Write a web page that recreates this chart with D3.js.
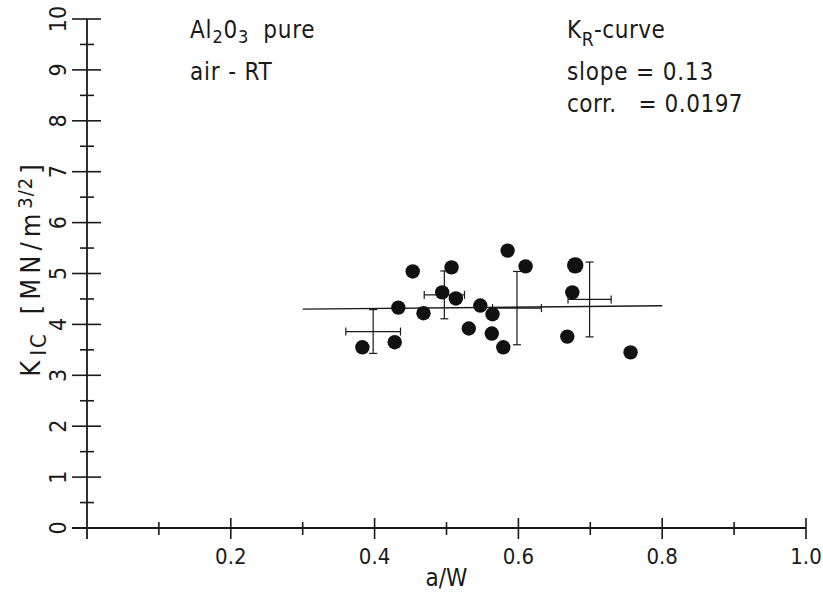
<!DOCTYPE html>
<html>
<head>
<meta charset="utf-8">
<script src="https://cdn.jsdelivr.net/npm/d3@7"></script>
<style>
  body { margin: 0; background: #fff; }
  text { font-family: "DejaVu Sans Condensed", "Liberation Sans Narrow", "DejaVu Sans", sans-serif; fill: #1a1a1a; }
</style>
</head>
<body>
<svg id="chart" width="823" height="595"></svg>
<script>
// ---- data ----
var aw   = [0.383, 0.428, 0.433, 0.453, 0.468, 0.494, 0.507, 0.513, 0.531, 0.547, 0.564, 0.563, 0.579, 0.585, 0.610, 0.679, 0.675, 0.668, 0.756];
var kic  = [3.55, 3.65, 4.33, 5.04, 4.22, 4.63, 5.12, 4.51, 3.92, 4.37, 4.20, 3.82, 3.55, 5.45, 5.14, 5.16, 4.63, 3.76, 3.45];
var big  = [0, 0, 0, 0, 0, 0, 0, 0, 0, 0, 0, 0, 0, 0, 0, 1, 0, 0, 0];

// mean values with scatter bars
var barX    = [0.398, 0.497, 0.598, 0.699];
var barY    = [3.86, 4.58, 4.32, 4.49];
var barXerr = [0.038, 0.028, 0.034, 0.030];
var barYerr = [0.43, 0.47, 0.72, 0.735];

// K_R curve fit
var fitX = [0.30, 0.80];
var fitY = [4.30, 4.365];

var xMajor = [0.2, 0.4, 0.6, 0.8, 1.0];
var xMinor = [0.1, 0.3, 0.5, 0.7, 0.9];
var yMajor = [0, 1, 2, 3, 4, 5, 6, 7, 8, 9, 10];
var yMinor = [0.5, 1.5, 2.5, 3.5, 4.5, 5.5, 6.5, 7.5, 8.5, 9.5];

var ink = "#1a1a1a";
var svg = d3.select("#chart");

var x = d3.scaleLinear().domain([0, 1]).range([87, 806]);
var y = d3.scaleLinear().domain([0, 10]).range([528, 19]);

//================ axes =================
svg.append("line")
  .attr("x1", 72).attr("x2", x(1))
  .attr("y1", y(0)).attr("y2", y(0))
  .attr("stroke", ink).attr("stroke-width", 1.8);
svg.append("line")
  .attr("x1", x(0)).attr("x2", x(0))
  .attr("y1", y(10)).attr("y2", y(0) + 11)
  .attr("stroke", ink).attr("stroke-width", 1.8);

svg.selectAll(".xmaj").data(xMajor).enter().append("line")
  .attr("x1", function(d) { return x(d); }).attr("x2", function(d) { return x(d); })
  .attr("y1", y(0) - 10).attr("y2", y(0) + 11)
  .attr("stroke", ink).attr("stroke-width", 1.6);
svg.selectAll(".xmin").data(xMinor).enter().append("line")
  .attr("x1", function(d) { return x(d); }).attr("x2", function(d) { return x(d); })
  .attr("y1", y(0) - 6).attr("y2", y(0) + 7)
  .attr("stroke", ink).attr("stroke-width", 1.6);

svg.selectAll(".ymaj").data(yMajor).enter().append("line")
  .attr("x1", x(0) - 15).attr("x2", x(0) + 14)
  .attr("y1", function(d) { return y(d); }).attr("y2", function(d) { return y(d); })
  .attr("stroke", ink).attr("stroke-width", 1.6);
svg.selectAll(".ymin").data(yMinor).enter().append("line")
  .attr("x1", x(0) - 7).attr("x2", x(0) + 7)
  .attr("y1", function(d) { return y(d); }).attr("y2", function(d) { return y(d); })
  .attr("stroke", ink).attr("stroke-width", 1.6);

// tick labels
svg.selectAll(".xlab").data(xMajor).enter().append("text")
  .attr("x", function(d) { return x(d); })
  .attr("y", y(0) + 36)
  .attr("text-anchor", "middle")
  .style("font-size", "22px")
  .text(function(d) { return d.toFixed(1); });

svg.selectAll(".ylab").data(yMajor).enter().append("text")
  .attr("transform", function(d) { return "translate(" + (x(0) - 21) + "," + y(d) + ") rotate(-90)"; })
  .attr("text-anchor", "middle")
  .style("font-size", "23px")
  .text(function(d) { return d; });

// axis titles
svg.append("text")
  .attr("x", x(0.5)).attr("y", y(0) + 58)
  .attr("text-anchor", "middle")
  .style("font-size", "24px")
  .text("a/W");

var yt = svg.append("text")
  .attr("transform", "translate(40," + 268 + ") rotate(-90)")
  .attr("text-anchor", "middle")
  .style("font-size", "27px")
  .style("letter-spacing", "5px");
yt.append("tspan").text("K");
yt.append("tspan").attr("baseline-shift", "-25%").style("font-size", "22px").style("letter-spacing", "2px").text("IC");
yt.append("tspan").attr("dx", 18).text("[MN/m");
yt.append("tspan").attr("baseline-shift", "40%").style("font-size", "20px").style("letter-spacing", "1px").text("3/2");
yt.append("tspan").attr("dx", 3).text("]");

//================ fit line =================
svg.append("line")
  .attr("x1", x(fitX[0])).attr("x2", x(fitX[1]))
  .attr("y1", y(fitY[0])).attr("y2", y(fitY[1]))
  .attr("stroke", ink).attr("stroke-width", 1.4);

//================ scatter bars =================
var bars = svg.selectAll(".bar").data(barX).enter().append("g");
bars.append("line")
  .attr("x1", function(d) { return x(d); }).attr("x2", function(d) { return x(d); })
  .attr("y1", function(d, i) { return y(barY[i] + barYerr[i]); })
  .attr("y2", function(d, i) { return y(barY[i] - barYerr[i]); })
  .attr("stroke", ink).attr("stroke-width", 1.2);
bars.append("line")
  .attr("x1", function(d, i) { return x(d - barXerr[i]); })
  .attr("x2", function(d, i) { return x(d + barXerr[i]); })
  .attr("y1", function(d, i) { return y(barY[i]); }).attr("y2", function(d, i) { return y(barY[i]); })
  .attr("stroke", ink).attr("stroke-width", 1.2);
// caps
[1, -1].forEach(function(s) {
  bars.append("line")
    .attr("x1", function(d) { return x(d) - 4; }).attr("x2", function(d) { return x(d) + 4; })
    .attr("y1", function(d, i) { return y(barY[i] + s * barYerr[i]); })
    .attr("y2", function(d, i) { return y(barY[i] + s * barYerr[i]); })
    .attr("stroke", ink).attr("stroke-width", 1.2);
  bars.append("line")
    .attr("x1", function(d, i) { return x(d + s * barXerr[i]); })
    .attr("x2", function(d, i) { return x(d + s * barXerr[i]); })
    .attr("y1", function(d, i) { return y(barY[i]) - 4; })
    .attr("y2", function(d, i) { return y(barY[i]) + 4; })
    .attr("stroke", ink).attr("stroke-width", 1.2);
});

//================ points =================
svg.selectAll(".pt").data(aw).enter().append("circle")
  .attr("cx", function(d) { return x(d); })
  .attr("cy", function(d, i) { return y(kic[i]); })
  .attr("r", function(d, i) { return big[i] ? 8.2 : 7.2; })
  .attr("fill", "#111");

//================ annotations =================
var t1 = svg.append("text").attr("x", 190).attr("y", 38).style("font-size", "24px").style("letter-spacing", "0.8px");
t1.append("tspan").text("Al");
t1.append("tspan").attr("baseline-shift", "-30%").style("font-size", "18px").text("2");
t1.append("tspan").text("0");
t1.append("tspan").attr("baseline-shift", "-30%").style("font-size", "18px").text("3");
t1.append("tspan").attr("dx", 14).text("pure");

svg.append("text").attr("x", 190).attr("y", 80).style("font-size", "24px").style("letter-spacing", "0.8px")
  .attr("xml:space", "preserve").text("air - RT");

var t2 = svg.append("text").attr("x", 567).attr("y", 38).style("font-size", "24px").style("letter-spacing", "0.5px");
t2.append("tspan").text("K");
t2.append("tspan").attr("baseline-shift", "-40%").style("font-size", "19px").text("R");
t2.append("tspan").text("-curve");

svg.append("text").attr("x", 567).attr("y", 80).style("font-size", "24px").style("letter-spacing", "0.8px").text("slope = 0.13");
svg.append("text").attr("x", 567).attr("y", 112).style("font-size", "24px").style("letter-spacing", "0.5px")
  .attr("xml:space", "preserve").text("corr.   = 0.0197");
</script>
</body>
</html>
